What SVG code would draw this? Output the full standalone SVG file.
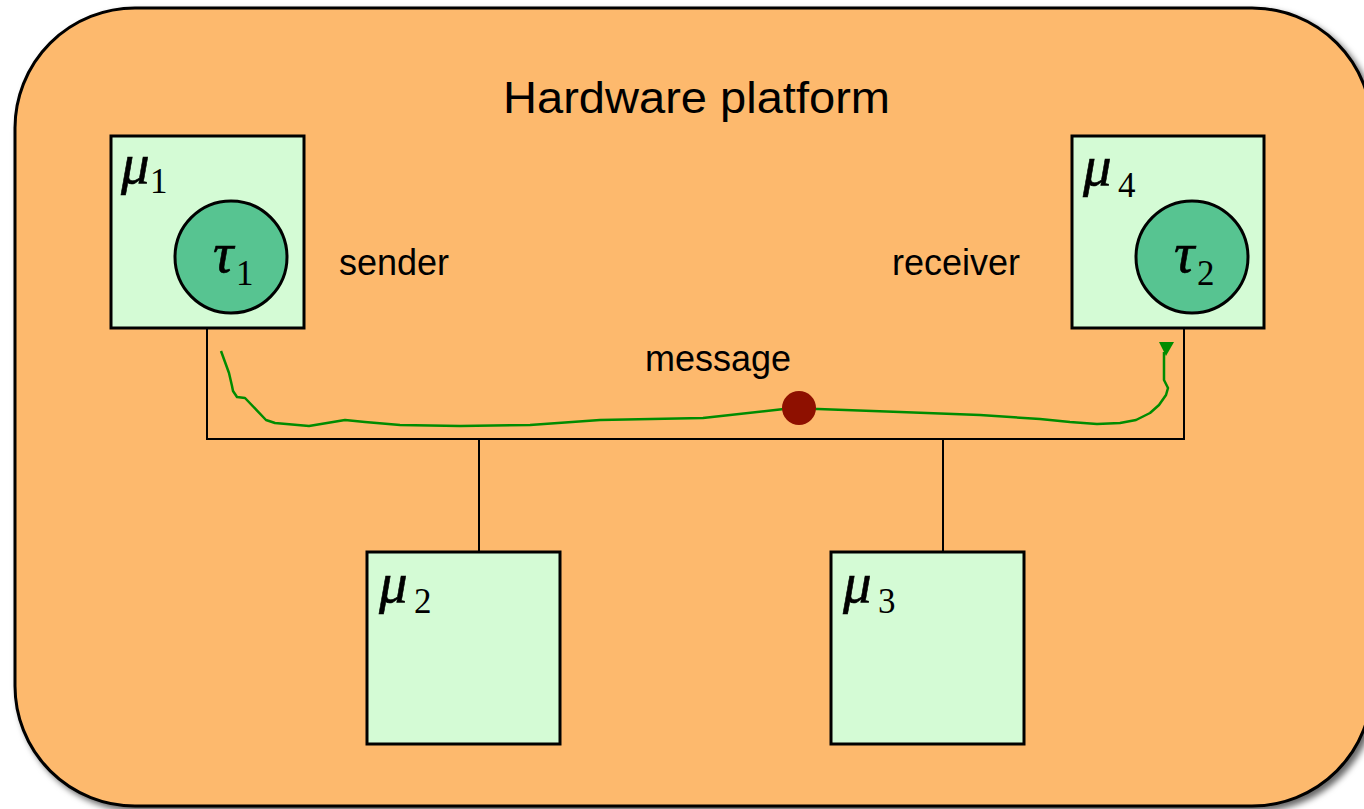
<svg xmlns="http://www.w3.org/2000/svg" width="1364" height="809" viewBox="0 0 1364 809">
<defs>
<filter id="shadow" x="-5%" y="-5%" width="115%" height="115%">
<feDropShadow dx="4" dy="4" stdDeviation="3" flood-color="#000" flood-opacity="0.6"/>
</filter>
<style>
.box{fill:#D4FBD5;stroke:#000;stroke-width:3}
.task{fill:#57C491;stroke:#000;stroke-width:3}
.bus{fill:none;stroke:#000;stroke-width:2}
.lbl{font-family:"Liberation Sans",Arial,sans-serif;font-size:36px;fill:#000}
.sym{font-family:"Liberation Serif","Times New Roman",serif;font-style:italic;font-size:57px;fill:#000;stroke:#000;stroke-width:0.6}
.sub{font-family:"Liberation Serif","Times New Roman",serif;font-size:35px;fill:#000}
</style>
</defs>
<rect id="platform" x="15" y="8" width="1357" height="798" rx="120" ry="120" fill="#FDB96D" stroke="#000" stroke-width="3" filter="url(#shadow)"/>
<text class="lbl" x="503" y="113" style="font-size:44px" textLength="387" lengthAdjust="spacingAndGlyphs">Hardware platform</text>
<g id="connectors">
<path class="bus" d="M207,328 V439 H1184 V328 M479,439 V552 M943,439 V552"/>
<path d="M221,351 L229,373 L232,386 L233,391 L237,397 L245,398 L266,420 L275,423 L309,426 L345,420 L365,422 L400,425 L460,426 L530,425 L600,420 L703,418 L784,409 L818,409 L900,412 L980,415 L1040,419 L1070,422 L1097,424 L1120,423 L1136,420 L1150,413 L1159,405 L1166,395 L1168,388 L1164,380 L1164,352" fill="none" stroke="#008C00" stroke-width="2.5" stroke-linejoin="round"/>
<polygon points="1159,342 1174,342 1166,356" fill="#008C00"/>
<ellipse cx="799" cy="408" rx="17" ry="17" fill="#8E1000"/>
</g>
<g id="mu1">
<rect class="box" x="111" y="136" width="193" height="192"/>
<text class="sym" x="121" y="183">μ</text><text class="sub" x="150" y="193">1</text>
</g>
<g id="tau1">
<circle class="task" cx="231" cy="257" r="56"/>
<text class="sym" x="213" y="272">τ</text><text class="sub" x="236" y="285">1</text>
</g>
<g id="mu4">
<rect class="box" x="1072" y="136" width="192" height="192"/>
<text class="sym" x="1083" y="185">μ</text><text class="sub" x="1118" y="197">4</text>
</g>
<g id="tau2">
<circle class="task" cx="1192" cy="257" r="56"/>
<text class="sym" x="1174" y="272">τ</text><text class="sub" x="1197" y="285">2</text>
</g>
<g id="mu2">
<rect class="box" x="367" y="552" width="193" height="192"/>
<text class="sym" x="379" y="602">μ</text><text class="sub" x="414" y="613">2</text>
</g>
<g id="mu3">
<rect class="box" x="831" y="552" width="193" height="192"/>
<text class="sym" x="843" y="602">μ</text><text class="sub" x="878" y="613">3</text>
</g>
<text class="lbl" x="339" y="275">sender</text>
<text class="lbl" x="892" y="275">receiver</text>
<text class="lbl" x="645" y="371">message</text>
</svg>
